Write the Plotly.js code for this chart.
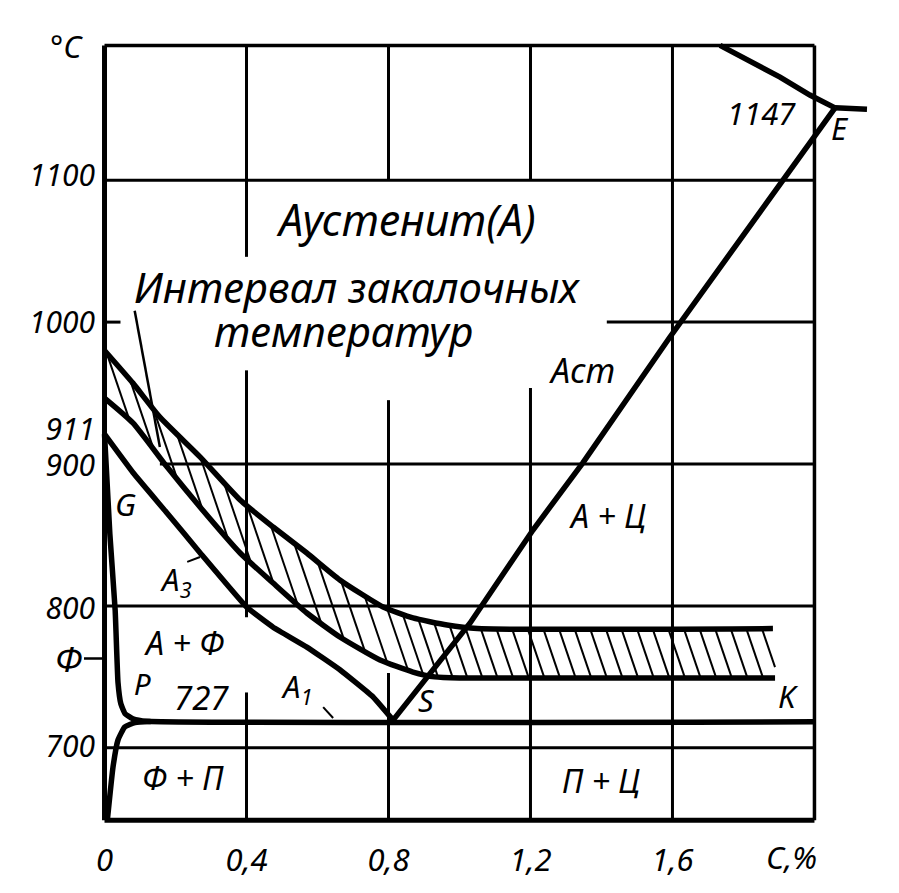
<!DOCTYPE html>
<html><head><meta charset="utf-8">
<script src="https://cdn.plot.ly/plotly-3.0.1.min.js"></script>
<style>html,body{margin:0;padding:0;background:#fff}#chart{width:899px;height:893px}</style>
</head><body><div id="chart"></div>
<script>
// ---- data (carbon %, temperature °C) ----
const gs_x = [0, 0.08, 0.176, 0.269, 0.401, 0.475, 0.57, 0.663, 0.756, 0.813];          // GS (A3)
const gs_T = [921, 894, 865.5, 837.5, 799, 785, 771, 755, 736, 719.5];
const gpk_x = [0, 0.015, 0.03, 0.038, 0.046, 0.058, 0.08, 0.12, 2.0];                     // G-P + PSK (727)
const gpk_T = [921, 851, 797, 746, 731, 724, 720.5, 718.7, 718.3];
const pq_x = [0.008, 0.024, 0.038, 0.057, 0.086, 0.13];                                  // PQ
const pq_T = [649, 686.5, 705.5, 714.7, 717.8, 718.6];
const se_x = [0.813, 0.917, 1.03, 1.207, 1.348, 1.593, 1.911, 2.058];                    // SE (Acm)
const se_T = [719.5, 752.7, 788, 853.5, 901, 989.5, 1100, 1151];
const liq_x = [1.734, 1.903, 1.987, 2.058];                                              // liquidus to E
const liq_T = [1195, 1172.7, 1160, 1151];
const ecf_x = [2.058, 2.148];                                                            // 1147 line
const ecf_T = [1151, 1150];
const up_x = [0, 0.08, 0.156, 0.269, 0.382, 0.475, 0.57, 0.663, 0.785, 0.869, 0.965, 1.05, 1.883]; // quench interval, upper
const up_T = [980, 957, 933, 905, 874.6, 855.6, 837.3, 818.3, 799.2, 791.5, 786.5, 784, 784];
const lo_x = [0, 0.08, 0.176, 0.269, 0.382, 0.475, 0.57, 0.663, 0.776, 0.869, 0.93, 1.0, 1.889];   // quench interval, lower
const lo_T = [946.5, 929, 898, 869.7, 837.3, 816.1, 795, 778.1, 761.9, 753.4, 750, 749.2, 749.2];
const leader_x = [0.085, 0.156];   // "Интервал..." pointer
const leader_T = [1008, 912];
const a3tick_x = [0.233, 0.269];
const a3tick_T = [831, 834.5];
const a1tick_x = [0.616, 0.644];
const a1tick_T = [728.7, 721];

const xTickVals = [0, 0.4, 0.8, 1.2, 1.6];
const xTickText = ['0', '0,4', '0,8', '1,2', '1,6'];
const yTickVals = [701, 798, 899, 924, 1000, 1103];
const yTickText = ['700', '800', '900', '911', '1000', '1100'];

// ---- layout geometry ----
const W = 899, H = 893, ML = 100, MR = 10, MT = 41, MB = 68;
const xRange = [-0.0127, 2.21], yRange = [645.6, 1198.1];
const pxPerX = (W - ML - MR) / (xRange[1] - xRange[0]);
const pxPerT = (H - MT - MB) / (yRange[1] - yRange[0]);
const FONT = 'Noto Sans, DejaVu Sans, sans-serif';
const f = (s) => ({family: FONT, size: s, style: 'italic', color: '#000'});

function interp(xs, ys, x) {
  if (x <= xs[0]) return ys[0];
  for (let i = 1; i < xs.length; i++) {
    if (x <= xs[i]) return ys[i-1] + (ys[i]-ys[i-1]) * (x - xs[i-1]) / (xs[i]-xs[i-1]);
  }
  return ys[ys.length-1];
}

// hatch lines between the two quench-interval curves
function hatch() {
  const hx = [], hy = [];
  const starts = [];
  for (let x = 0.006; x < 0.79; x += 0.066) starts.push(x);
  for (let x = 0.796; x < 1.86; x += 0.044) starts.push(x);
  const slope = 0.34; // px right per px down
  starts.forEach(xs => {
    const Ts = interp(up_x, up_T, xs);
    let xe = xs, Te = Ts;
    for (let t = 0; t < 300; t += 0.5) {
      const x = xs + slope * t / pxPerX, T = Ts - t / pxPerT;
      if (x > lo_x[lo_x.length-1]) break;
      xe = x; Te = T;
      if (T <= interp(lo_x, lo_T, x)) break;
    }
    hx.push(xs, xe, null); hy.push(Ts, Te, null);
  });
  return {hx, hy};
}
const H_ = hatch();

const thick = {color: '#000', width: 5.5, shape: 'spline', smoothing: 0.5};
const straight = {color: '#000', width: 5.5};
const traces = [
  {x: H_.hx, y: H_.hy, mode: 'lines', line: {color: '#000', width: 2}},
  {x: up_x, y: up_T, mode: 'lines', line: thick},
  {x: lo_x, y: lo_T, mode: 'lines', line: thick},
  {x: gs_x, y: gs_T, mode: 'lines', line: Object.assign({}, thick, {smoothing: 0.3})},
  {x: gpk_x, y: gpk_T, mode: 'lines', line: Object.assign({}, thick, {smoothing: 0.4})},
  {x: pq_x, y: pq_T, mode: 'lines', line: Object.assign({}, thick, {smoothing: 0.4})},
  {x: se_x, y: se_T, mode: 'lines', line: straight},
  {x: liq_x, y: liq_T, mode: 'lines', line: straight},
  {x: ecf_x, y: ecf_T, mode: 'lines', line: straight},
  {x: leader_x, y: leader_T, mode: 'lines', line: {color: '#000', width: 2.5}},
  {x: a3tick_x, y: a3tick_T, mode: 'lines', line: {color: '#000', width: 2}},
  {x: a1tick_x, y: a1tick_T, mode: 'lines', line: {color: '#000', width: 2}}
].map(t => Object.assign(t, {showlegend: false, hoverinfo: 'skip'}));

// grid (drawn in pieces, as in the original)
const gridV = [
  {x: 0.4, segs: [[1046, 1195], [792, 966], [649, 739]]},
  {x: 0.8, segs: [[1100, 1195], [798.5, 945], [649, 752.7]]},
  {x: 1.2, segs: [[1100, 1195], [649, 953.6]]},
  {x: 1.6, segs: [[649, 1195]]}
];
const gridH = [
  {T: 1100, segs: [[0, 2]]},
  {T: 1000, segs: [[0, 0.045], [1.415, 2]]},
  {T: 900, segs: [[0.156, 2]]},
  {T: 800, segs: [[0, 2]]},
  {T: 700, segs: [[0, 2]]}
];
const shapes = [];
const gl = {color: '#000', width: 3};
gridV.forEach(g => g.segs.forEach(s => shapes.push({type: 'line', xref: 'x', yref: 'y', x0: g.x, x1: g.x, y0: s[0], y1: s[1], line: gl, layer: 'below'})));
gridH.forEach(g => g.segs.forEach(s => shapes.push({type: 'line', xref: 'x', yref: 'y', x0: s[0], x1: s[1], y0: g.T, y1: g.T, line: gl, layer: 'below'})));
// frame
shapes.push({type: 'line', xref: 'x', yref: 'y', x0: 0, x1: 0, y0: 649, y1: 1195, line: {color: '#000', width: 5}});
shapes.push({type: 'line', xref: 'x', yref: 'y', x0: 0, x1: 2.0, y0: 649, y1: 649, line: {color: '#000', width: 5}});
shapes.push({type: 'line', xref: 'x', yref: 'y', x0: 0, x1: 2.0, y0: 1195, y1: 1195, line: {color: '#000', width: 3.5}});
shapes.push({type: 'line', xref: 'x', yref: 'y', x0: 2.0, x1: 2.0, y0: 649, y1: 1195, line: {color: '#000', width: 3.5}});

const labels = [
  ['Аустенит(А)', 0.85, 1072, 43],
  ['Интервал закалочных', 0.71, 1025, 42],
  ['температур', 0.672, 994, 42],
  ['Acm', 1.345, 966, 34],
  ['А + Ц', 1.418, 864, 32],
  ['П + Ц', 1.4, 677.3, 32],
  ['Ф + П', 0.222, 679.4, 32],
  ['А + Ф', 0.225, 773.9, 32],
  ['Р', 0.106, 745, 30],
  ['727', 0.272, 735.4, 33],
  ['А<sub>1</sub>', 0.542, 742, 31],
  ['А<sub>3</sub>', 0.2, 817.5, 31],
  ['G', 0.058, 871.8, 31],
  ['S', 0.908, 733.7, 31],
  ['K', 1.928, 736.5, 31],
  ['E', 2.072, 1136.8, 31],
  ['1147', 1.852, 1147.4, 31]
];
const annotations = labels.map(l => ({text: l[0], x: l[1], y: l[2], xref: 'x', yref: 'y', showarrow: false, font: f(l[3]), xanchor: 'center', yanchor: 'middle'}));
annotations.push({text: 'Ф', x: 0, y: 763, xref: 'x', yref: 'y', showarrow: true, arrowhead: 0, arrowwidth: 2.5, arrowcolor: '#000', ax: -36, ay: 0, standoff: 0, font: f(35)});
annotations.push({text: '°C', x: -0.043, y: 0.9936, xref: 'paper', yref: 'paper', showarrow: false, font: f(31), xanchor: 'center', yanchor: 'middle'});
annotations.push({text: 'C,%', x: 1.936, y: -0.0408, xref: 'x', yref: 'paper', showarrow: false, font: f(31), xanchor: 'center', yanchor: 'middle'});

const layout = {
  width: W, height: H,
  margin: {l: ML, r: MR, t: MT, b: MB, pad: 0},
  paper_bgcolor: '#fff', plot_bgcolor: '#fff',
  xaxis: {range: xRange, showgrid: false, zeroline: false, showline: false, ticks: '',
          tickvals: xTickVals, ticktext: xTickText, tickfont: f(31), ticklabelstandoff: 14, fixedrange: true},
  yaxis: {range: yRange, showgrid: false, zeroline: false, showline: false, ticks: '',
          tickvals: yTickVals, ticktext: yTickText, tickfont: f(30), ticklabelstandoff: 4, fixedrange: true},
  shapes: shapes, annotations: annotations,
  hovermode: false
};
Plotly.newPlot('chart', traces, layout, {staticPlot: true, displayModeBar: false});
</script></body></html>
